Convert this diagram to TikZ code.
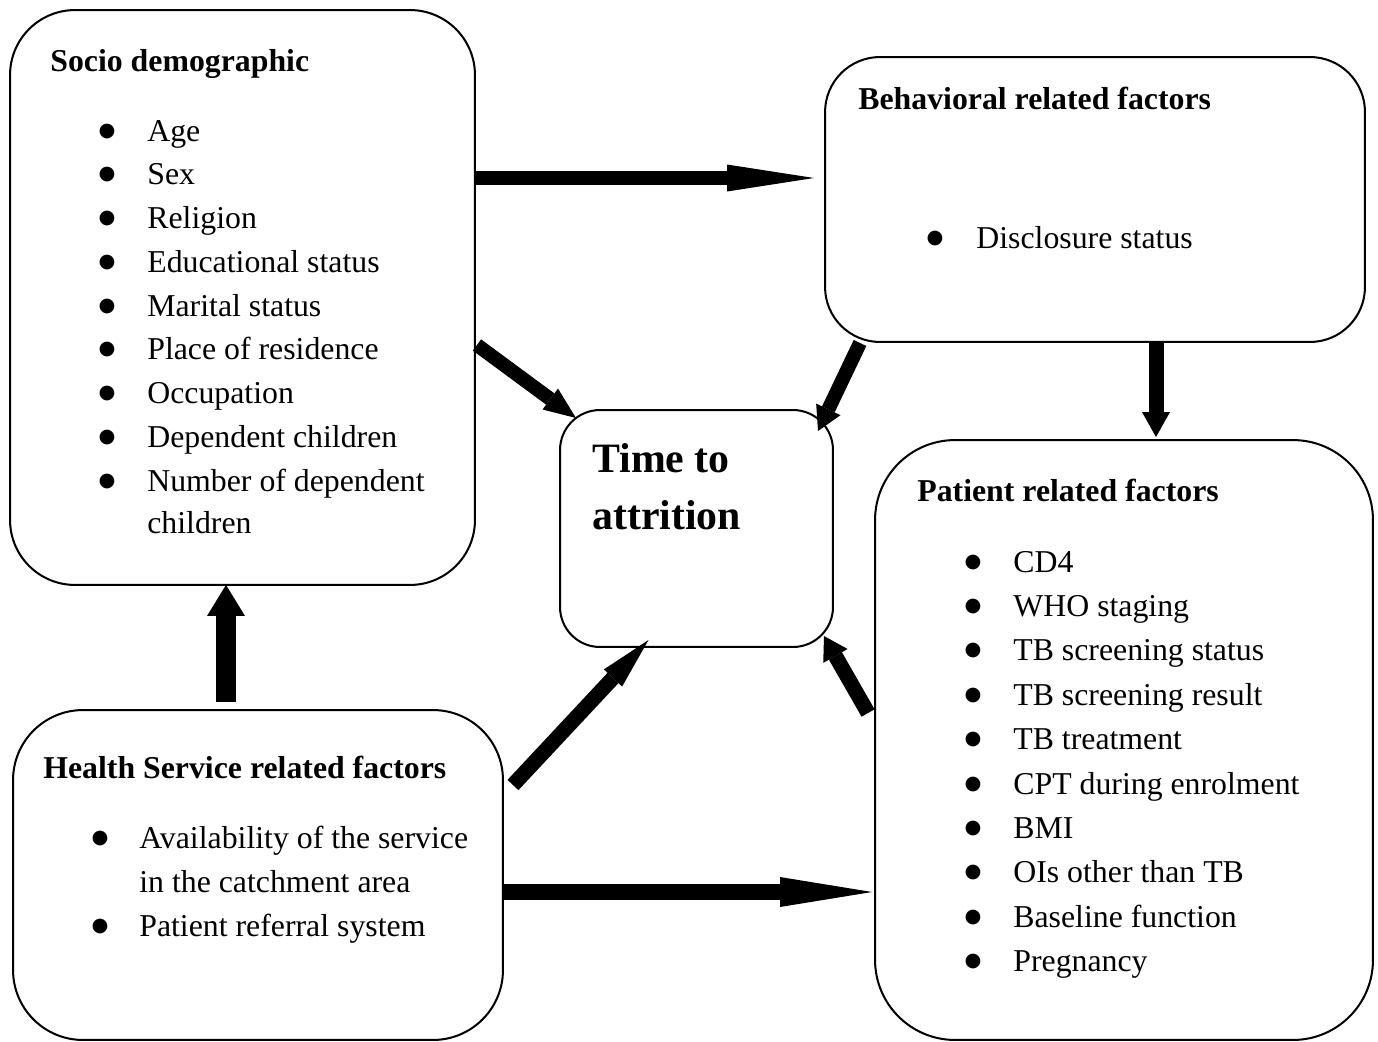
\documentclass[tikz,border=0pt]{standalone}
\usepackage{fontspec}
\setmainfont{Liberation Serif}
\newfontfamily\bulfont{DejaVu Sans}
\usetikzlibrary{arrows.meta,calc}
\begin{document}
\begin{tikzpicture}[x=0.02cm,y=-0.02cm,
  box/.style={draw=black,line width=1.15pt,inner sep=0pt},
  txt/.style={inner sep=0pt,anchor=base west,font=\fontsize{18.1pt}{24.9pt}\selectfont},
  bul/.style={inner sep=0pt,anchor=base,font=\bulfont\fontsize{11pt}{12pt}\selectfont},
  big/.style={inner sep=0pt,anchor=base west,font=\fontsize{23.8pt}{32.3pt}\selectfont\bfseries},
  fat/.style n args={3}{line width=#1cm,-{Triangle[length=#2cm,width=#3cm,line width=0pt]}}
]
\useasboundingbox (0,0) rectangle (1378,1041);

% boxes
\node[box,rounded corners=1.3cm,minimum width=9.30cm,minimum height=11.50cm] (soc) at (242.5,297.5) {};
\node[box,rounded corners=1.1cm,minimum width=10.80cm,minimum height=5.70cm] (beh) at (1095,199.5) {};
\node[box,rounded corners=0.8cm,minimum width=5.46cm,minimum height=4.74cm] (time) at (696.5,528.5) {};
\node[box,rounded corners=1.6cm,minimum width=9.96cm,minimum height=12.00cm] (pat) at (1124,740) {};
\node[box,rounded corners=1.4cm,minimum width=9.80cm,minimum height=6.60cm] (hs) at (258,875) {};

% Socio demographic
\node[txt,font=\fontsize{18.1pt}{24.9pt}\selectfont\bfseries] (s0) at (50,71) {Socio demographic};
\foreach \t [count=\i] in {Age,Sex,Religion,Educational status,Marital status,Place of residence,Occupation,Dependent children,Number of dependent}{
  \node[bul] (sb\i) at (107,{136+43.75*(\i-1)}) {●};
  \node[txt] (st\i) at (147,{141+43.75*(\i-1)}) {\t};
}
\node[txt] (st10) at (147,533) {children};

% Behavioral
\node[txt,font=\fontsize{18.1pt}{24.9pt}\selectfont\bfseries] (b0) at (858,109) {Behavioral related factors};
\node[bul] (bb1) at (935,243) {●};
\node[txt] (bt1) at (976,248) {Disclosure status};

% Time to attrition
\node[big] (t1) at (592,472) {Time to};
\node[big] (t2) at (592,529) {attrition};

% Patient related
\node[txt,font=\fontsize{18.1pt}{24.9pt}\selectfont\bfseries] (p0) at (917,501) {Patient related factors};
\foreach \t [count=\i] in {CD4,WHO staging,TB screening status,TB screening result,TB treatment,CPT during enrolment,BMI,OIs other than TB,Baseline function,Pregnancy}{
  \node[bul] (pb\i) at (973,{567+44.4*(\i-1)}) {●};
  \node[txt] (pt\i) at (1013,{572+44.4*(\i-1)}) {\t};
}

% Health service
\node[txt,font=\fontsize{18.1pt}{24.9pt}\selectfont\bfseries] (h0) at (43,778) {Health Service related factors};
\node[bul] (hb1) at (100,843) {●};
\node[txt] (ht1) at (139,848) {Availability of the service};
\node[txt] (ht1b) at (139,892) {in the catchment area};
\node[bul] (hb2) at (100,931) {●};
\node[txt] (ht2) at (139,936) {Patient referral system};

% arrows
\draw[fat={0.28}{1.74}{0.54}] (soc.east |- 0,178) -- ($(beh.west |- 0,178)+(-10,0)$);
\draw[fat={0.28}{0.64}{0.52}] ($(soc.east |- 0,345)+(1,0)$) -- ($(time.north west)+(17,9)$);
\draw[fat={0.28}{0.48}{0.54}] (beh.south -| 860,0) -- ($(time.north east)+(-16,22)$);
\draw[fat={0.30}{0.50}{0.56}] (beh.south -| 1156,0) -- ($(pat.north -| 1156,0)+(0,-2)$);
\draw[fat={0.40}{0.62}{0.76}] ($(hs.north -| 226,0)+(0,-7)$) -- ($(soc.south -| 226,0)+(0,-1)$);
\draw[fat={0.30}{1.04}{0.50}] ($(hs.east |- 0,785)+(9,0)$) -- ($(time.south)+(-48,-8)$);
\draw[fat={0.30}{0.46}{0.56}] ($(pat.west |- 0,713)+(-6,0)$) -- ($(time.south east)+(-10,-12)$);
\draw[fat={0.32}{1.84}{0.60}] (hs.east |- 0,892) -- ($(pat.west |- 0,892)+(-2,0)$);
\end{tikzpicture}
\end{document}
